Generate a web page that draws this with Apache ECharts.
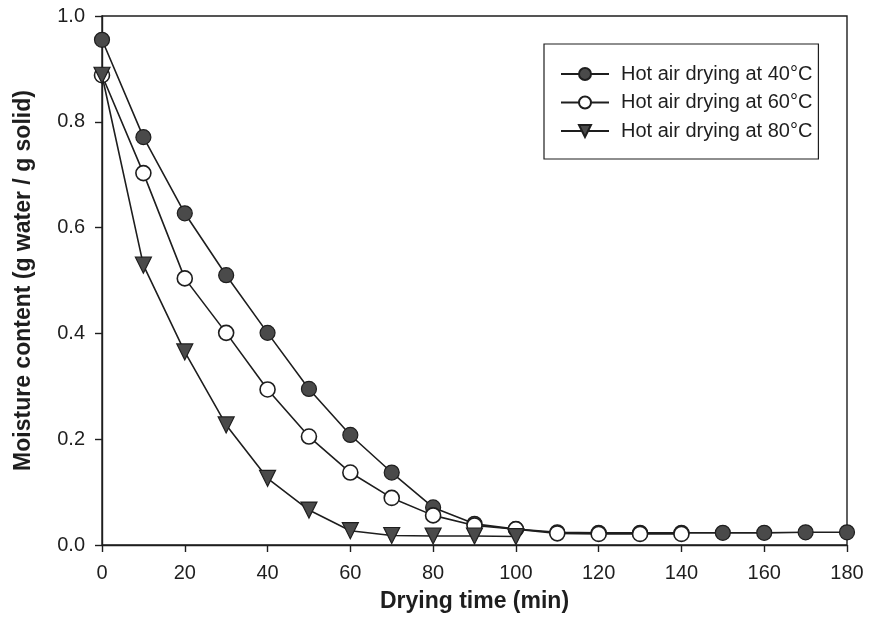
<!DOCTYPE html>
<html>
<head>
<meta charset="utf-8">
<script src="https://cdn.jsdelivr.net/npm/echarts@6/dist/echarts.min.js"></script>
<style>
html,body{margin:0;padding:0;background:#fff;}
#chart{width:870px;height:636px;}
</style>
</head>
<body>
<div id="chart"></div>
<script>
// Data
var timeMin = [0,10,20,30,40,50,60,70,80,90,100,110,120,130,140,150,160,170,180];
var mc40 = [0.955,0.771,0.627,0.510,0.401,0.295,0.208,0.137,0.071,0.040,0.030,0.024,0.023,0.023,0.023,0.023,0.023,0.024,0.024];
var mc60 = [0.888,0.703,0.504,0.401,0.294,0.205,0.137,0.089,0.056,0.037,0.030,0.022,0.021,0.021,0.021];
var mc80 = [0.888,0.529,0.365,0.227,0.126,0.066,0.027,0.018,0.017,0.017,0.016];
var seriesNames = ['Hot air drying at 40°C','Hot air drying at 60°C','Hot air drying at 80°C'];
var xTicks = [0,20,40,60,80,100,120,140,160,180];
var yTicks = [0.0,0.2,0.4,0.6,0.8,1.0];

function pairs(vals){ return vals.map(function(v,i){ return [timeMin[i], v]; }); }

var FONT = '"Liberation Sans", Arial, sans-serif';
var INK = '#1e1e1e';

var chart = echarts.init(document.getElementById('chart'), null, {renderer:'canvas'});
chart.setOption({
  backgroundColor:'#ffffff',
  animation:false,
  grid:{left:102, top:16, right:23, bottom:91, show:true, borderColor:INK, borderWidth:1.4, backgroundColor:'transparent'},
  xAxis:{
    type:'value', min:xTicks[0], max:xTicks[xTicks.length-1], interval:20,
    name:'Drying time (min)', nameLocation:'middle', nameGap:45,
    nameTextStyle:{fontFamily:FONT, fontSize:23, color:INK, fontWeight:'bold'},
    axisLine:{show:true, lineStyle:{color:INK, width:1.4}},
    axisTick:{show:true, inside:false, length:7, lineStyle:{color:INK, width:1.4}},
    axisLabel:{fontFamily:FONT, fontSize:20, color:INK, margin:18},
    splitLine:{show:false}
  },
  yAxis:{
    type:'value', min:yTicks[0], max:yTicks[yTicks.length-1], interval:0.2,
    name:'Moisture content (g water / g solid)', nameLocation:'middle', nameGap:67, nameRotate:90,
    nameTextStyle:{fontFamily:FONT, fontSize:23, color:INK, fontWeight:'bold'},
    axisLine:{show:true, lineStyle:{color:INK, width:1.4}},
    axisTick:{show:true, inside:false, length:7, lineStyle:{color:INK, width:1.4}},
    axisLabel:{fontFamily:FONT, fontSize:20, color:INK, margin:17, formatter:function(v){return v.toFixed(1);}},
    splitLine:{show:false}
  },
  legend:{
    orient:'vertical', left:544, top:44,
    padding:[20,6,18,16], itemGap:8.5, itemWidth:48, itemHeight:15,
    borderColor:INK, borderWidth:1.2, backgroundColor:'#fff',
    textStyle:{fontFamily:FONT, fontSize:20, lineHeight:20, color:INK, padding:[0,0,0,7]},
    data:seriesNames
  },
  series:[
    {name:seriesNames[0], type:'line', data:pairs(mc40), symbol:'circle', symbolSize:15,
     lineStyle:{color:INK, width:1.6}, itemStyle:{color:'#4a4a4a', borderColor:INK, borderWidth:1.2}, z:2},
    {name:seriesNames[1], type:'line', data:pairs(mc60), symbol:'circle', symbolSize:15,
     lineStyle:{color:INK, width:1.6}, itemStyle:{color:'#ffffff', borderColor:INK, borderWidth:1.6}, z:3},
    {name:seriesNames[2], type:'line', data:pairs(mc80), symbol:'triangle', symbolRotate:180, symbolSize:16,
     lineStyle:{color:INK, width:1.6}, itemStyle:{color:'#4a4a4a', borderColor:INK, borderWidth:1.2}, z:4}
  ]
});
</script>
</body>
</html>
